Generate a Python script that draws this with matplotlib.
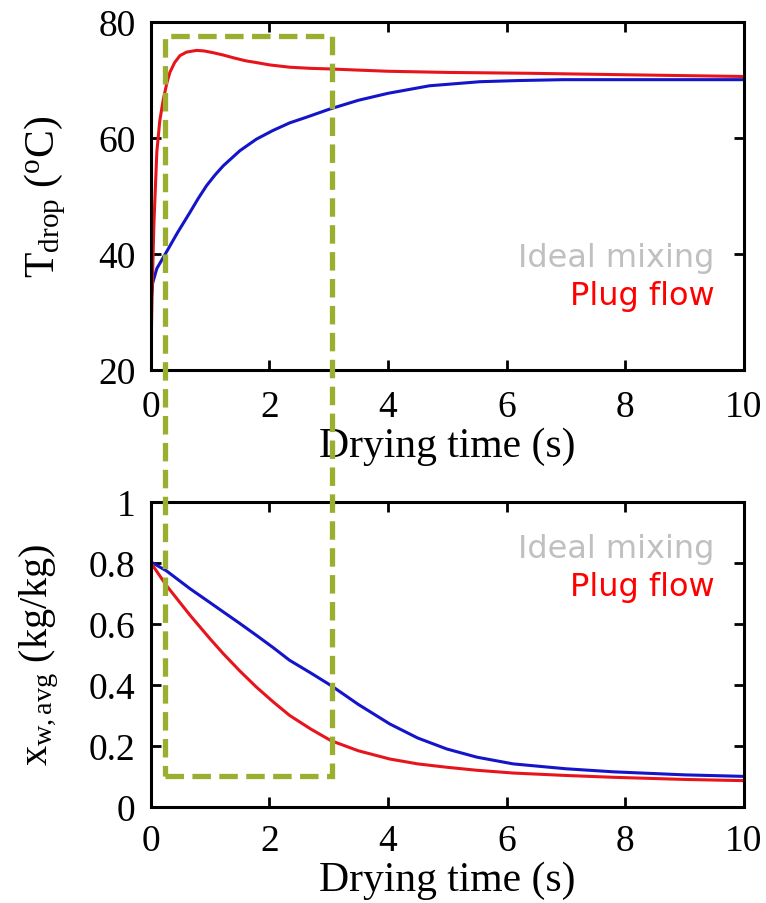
import matplotlib
matplotlib.use('Agg')
import matplotlib.pyplot as plt
from matplotlib.patches import Rectangle

plt.rcParams['font.family'] = 'Liberation Serif'
plt.rcParams['mathtext.fontset'] = 'custom'
plt.rcParams['mathtext.rm'] = 'Liberation Serif'
plt.rcParams['mathtext.it'] = 'Liberation Serif:italic'

# drop temperature (top panel)
t_plug_T = [0, 0.02, 0.05, 0.1, 0.15, 0.21, 0.27, 0.32, 0.4, 0.49, 0.6, 0.77, 0.9, 1.05,
            1.22, 1.4, 1.6, 1.78, 2.0, 2.34, 2.7, 3.02, 3.5, 4, 5, 6.39, 8, 9, 10]
T_plug = [22, 33, 45, 57.6, 63, 66.7, 69.5, 71.3, 73.0, 74.2, 74.8, 75.1, 75.0, 74.7,
          74.3, 73.8, 73.3, 73.0, 72.6, 72.2, 72.0, 71.9, 71.7, 71.5, 71.3, 71.15, 70.9, 70.75, 70.6]
t_ideal_T = [0, 0.03, 0.1, 0.26, 0.45, 0.66, 0.8, 0.94, 1.08, 1.22, 1.5, 1.78, 2.06, 2.34,
             2.63, 3.02, 3.5, 4, 4.7, 5.55, 6.2, 6.95, 8, 9, 10]
T_ideal = [31.5, 35, 37.5, 40.3, 43.7, 47.2, 49.6, 51.8, 53.6, 55.2, 57.8, 59.8, 61.3, 62.6,
           63.6, 65.0, 66.5, 67.7, 69.0, 69.7, 69.9, 70.05, 70.05, 70.05, 70.05]

# average moisture content (bottom panel)
t_x = [0, 0.26, 0.66, 1.0, 1.22, 1.5, 1.78, 2.06, 2.34, 2.7, 3.04, 3.5, 4.03, 4.5, 4.99,
       5.5, 6.11, 7, 7.8, 9, 10]
x_ideal = [0.803, 0.774, 0.715, 0.669, 0.639, 0.601, 0.562, 0.522, 0.48, 0.438, 0.397,
           0.335, 0.271, 0.225, 0.189, 0.162, 0.14, 0.124, 0.114, 0.104, 0.099]
x_plug = [0.80, 0.726, 0.628, 0.55, 0.502, 0.445, 0.392, 0.344, 0.299, 0.254, 0.216,
          0.183, 0.156, 0.14, 0.129, 0.119, 0.11, 0.102, 0.096, 0.089, 0.085]

# highlighted window: time span, and top / bottom in each panel's units
box_t = [0.24, 3.05]
box_T_top = 77.5
box_x_bottom = 0.101

red = '#e8141c'
blue = '#1414c8'
green = '#9aae2f'

fig = plt.figure(figsize=(7.66, 9.04), dpi=100)
ax1 = fig.add_axes([0.197, 0.5896, 0.774, 0.385])
ax2 = fig.add_axes([0.197, 0.1067, 0.774, 0.337])

ax1.plot(t_ideal_T, T_ideal, color=blue, lw=2.2)
ax1.plot(t_plug_T, T_plug, color=red, lw=2.2)
ax1.set_xlim(0, 10)
ax1.set_ylim(20, 80)
ax1.set_yticks([20, 40, 60, 80])
ax1.set_ylabel(r'T$_{\mathrm{drop}}$ ($^{\mathrm{o}}$C)', fontsize=30, labelpad=22)

ax2.plot(t_x, x_ideal, color=blue, lw=2.2)
ax2.plot(t_x, x_plug, color=red, lw=2.2)
ax2.set_xlim(0, 10)
ax2.set_ylim(0, 1)
ax2.set_yticks([0, 0.2, 0.4, 0.6, 0.8, 1])
ax2.set_yticklabels(['0', '0.2', '0.4', '0.6', '0.8', '1'])
ax2.set_ylabel(r'x$_{\mathrm{w,avg}}$ (kg/kg)', fontsize=29, labelpad=20)

for ax, ly, xpad in [(ax1, (0.322, 0.213), 14), (ax2, (0.846, 0.721), 12)]:
    ax.set_xticks([0, 2, 4, 6, 8, 10])
    ax.set_xlabel('Drying time (s)', fontsize=30, labelpad=2)
    ax.tick_params(direction='in', length=7, width=2, labelsize=27,
                   top=True, right=True)
    ax.tick_params(axis='x', pad=xpad)
    ax.tick_params(axis='y', pad=11)
    for s in ax.spines.values():
        s.set_linewidth(2.2)
    ax.text(0.951, ly[0], 'Ideal mixing', transform=ax.transAxes, ha='right',
            va='center', fontsize=23, color='#c0c0c0', family='DejaVu Sans')
    ax.text(0.951, ly[1], 'Plug flow', transform=ax.transAxes, ha='right',
            va='center', fontsize=23, color='red', family='DejaVu Sans')

# dashed box spanning both panels
p0 = ax2.transData.transform((box_t[0], box_x_bottom))
p1 = ax1.transData.transform((box_t[1], box_T_top))
inv = fig.transFigure.inverted()
f0 = inv.transform(p0)
f1 = inv.transform(p1)
rect = Rectangle(f0, f1[0] - f0[0], f1[1] - f0[1], transform=fig.transFigure,
                 fill=False, edgecolor=green, lw=3.8, linestyle=(0, (3.5, 1.6)),
                 clip_on=False, zorder=10)
fig.add_artist(rect)

fig.savefig('out.png', dpi=100)
